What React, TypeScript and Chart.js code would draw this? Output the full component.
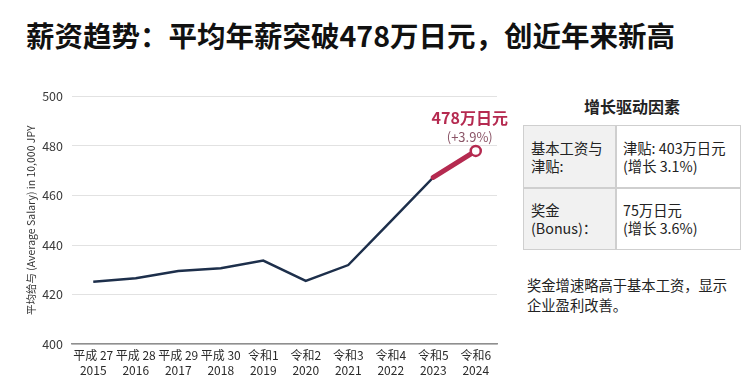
import React, { useEffect, useRef } from "react";
import { Chart, registerables } from "chart.js";

Chart.register(...registerables);

const eraLabels = ["平成 27", "平成 28", "平成 29", "平成 30", "令和1", "令和2", "令和3", "令和4", "令和5", "令和6"];
const yearLabels = ["2015", "2016", "2017", "2018", "2019", "2020", "2021", "2022", "2023", "2024"];
const salary = [425.2, 426.6, 429.5, 430.6, 433.7, 425.5, 431.9, 449.5, 467.3, 478];
const highlightFrom = 8;
const calloutMain = "478万日元";
const calloutSub = "(+3.9%)";
const yTitle = "平均给与 (Average Salary) in 10,000 JPY";

const NAVY = "#1d2f4b";
const RED = "#b52a50";
const FONT = '"Noto Sans CJK SC", "Noto Sans", sans-serif';

const calloutPlugin = {
  id: "callout",
  afterDatasetsDraw(chart: any) {
    const meta = chart.getDatasetMeta(0);
    const pt = meta.data[salary.length - 1];
    if (!pt) return;
    const ctx = chart.ctx;
    ctx.save();
    ctx.textAlign = "center";
    ctx.textBaseline = "middle";
    ctx.fillStyle = RED;
    ctx.font = `bold 16px ${FONT}`;
    ctx.fillText(calloutMain, pt.x - 6, pt.y - 33);
    ctx.fillStyle = "#8a5466";
    ctx.font = `13px ${FONT}`;
    ctx.fillText(calloutSub, pt.x - 6, pt.y - 14);
    ctx.restore();
  },
};

function SalaryChart() {
  const ref = useRef<HTMLCanvasElement | null>(null);
  useEffect(() => {
    if (!ref.current) return;
    const chart = new Chart(ref.current, {
      type: "line",
      data: {
        labels: eraLabels.map((e, i) => [e, yearLabels[i]]),
        datasets: [
          {
            data: salary.map((v, i) => (i >= highlightFrom ? v : null)),
            borderColor: RED,
            borderWidth: 5,
            borderCapStyle: "round",
            tension: 0,
            pointRadius: (c: any) => (c.dataIndex === salary.length - 1 ? 5 : 0),
            pointBackgroundColor: "#ffffff",
            pointBorderColor: RED,
            pointBorderWidth: 2.5,
            spanGaps: false,
          },
          {
            data: salary,
            borderColor: NAVY,
            borderWidth: 2.5,
            tension: 0,
            pointRadius: 0,
          },
        ],
      },
      options: {
        animation: false,
        responsive: false,
        maintainAspectRatio: false,
        devicePixelRatio: 1,
        layout: { padding: { top: 13, right: 13, left: 0, bottom: 0 } },
        plugins: { legend: { display: false }, tooltip: { enabled: false } },
        scales: {
          x: {
            offset: true,
            grid: { display: false, drawTicks: false },
            border: { display: true, color: "#8f8f8f", width: 1.5 },
            ticks: {
              autoSkip: false,
              maxRotation: 0,
              padding: 4,
              color: "#2a2a2a",
              font: { family: FONT, size: 12, lineHeight: 1.25 },
            },
            afterFit: (s: any) => {
              s.height = 48;
            },
          },
          y: {
            min: 400,
            max: 500,
            grid: { color: "#e2e2e2", lineWidth: 1, drawTicks: false },
            border: { display: false },
            ticks: {
              stepSize: 20,
              padding: 9,
              color: "#3a3a3a",
              font: { family: FONT, size: 12.5 },
            },
            title: {
              display: true,
              text: yTitle,
              color: "#333",
              font: { family: FONT, size: 10.5 },
              padding: { top: 25, bottom: 0 },
            },
            afterFit: (s: any) => {
              s.width = 72;
            },
          },
        },
      },
      plugins: [calloutPlugin],
    } as any);
    return () => chart.destroy();
  }, []);
  return (
    <canvas
      ref={ref}
      width={510}
      height={312}
      style={{ position: "absolute", left: 0, top: 80, width: 510, height: 312 }}
    />
  );
}

const cellBase: React.CSSProperties = {
  position: "absolute",
  boxSizing: "border-box",
  fontSize: 14.3,
  lineHeight: "18px",
  color: "#222",
  display: "flex",
  alignItems: "center",
};

export default function App() {
  return (
    <div
      style={{
        position: "absolute",
        left: 0,
        top: 0,
        width: 750,
        height: 392,
        background: "#ffffff",
        fontFamily: FONT,
        overflow: "hidden",
      }}
    >
      <div
        style={{
          position: "absolute",
          left: 26,
          top: 20,
          fontSize: 28.5,
          lineHeight: "30px",
          fontWeight: 700,
          color: "#111",
          whiteSpace: "nowrap",
        }}
      >
        薪资趋势：平均年薪突破478万日元，创近年来新高
      </div>
      <SalaryChart />
      <div
        style={{
          position: "absolute",
          left: 523,
          width: 218,
          top: 96,
          textAlign: "center",
          fontSize: 16,
          lineHeight: "20px",
          fontWeight: 700,
          color: "#222",
        }}
      >
        增长驱动因素
      </div>
      <div
        style={{
          position: "absolute",
          left: 523,
          top: 125,
          width: 218,
          height: 125,
          border: "1.5px solid #cfcfcf",
          boxSizing: "border-box",
        }}
      />
      <div style={{ ...cellBase, left: 524, top: 126, width: 92, height: 61, background: "#f1f1f1", paddingLeft: 7 }}>
        基本工资与
        <br />
        津贴:
      </div>
      <div style={{ ...cellBase, left: 524, top: 188, width: 92, height: 61, background: "#f1f1f1", paddingLeft: 7 }}>
        奖金
        <br />
        (Bonus)：
      </div>
      <div style={{ position: "absolute", left: 615, top: 125, width: 1.5, height: 125, background: "#cfcfcf" }} />
      <div style={{ position: "absolute", left: 523, top: 187, width: 218, height: 1.5, background: "#cfcfcf" }} />
      <div style={{ ...cellBase, left: 617, top: 126, width: 123, height: 61, paddingLeft: 6 }}>
        津贴: 403万日元
        <br />
        (增长 3.1%)
      </div>
      <div style={{ ...cellBase, left: 617, top: 188, width: 123, height: 61, paddingLeft: 6 }}>
        75万日元
        <br />
        (增长 3.6%)
      </div>
      <div
        style={{
          position: "absolute",
          left: 527,
          top: 275,
          width: 215,
          fontSize: 14.3,
          lineHeight: "20px",
          color: "#222",
        }}
      >
        奖金增速略高于基本工资，显示
        <br />
        企业盈利改善。
      </div>
    </div>
  );
}
